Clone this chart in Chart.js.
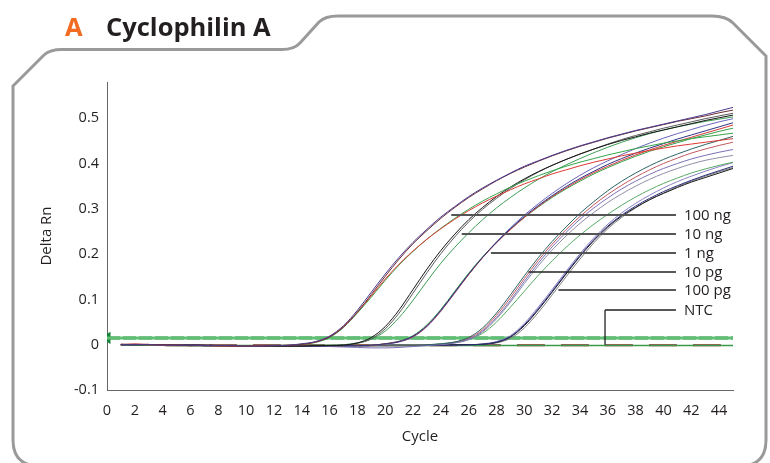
<!DOCTYPE html>
<html>
<head>
<meta charset="utf-8">
<script src="https://cdn.jsdelivr.net/npm/chart.js@4"></script>
<style>
  html, body { margin: 0; padding: 0; background: #fff; }
  canvas { display: block; }
</style>
</head>
<body>
<canvas id="chart" width="770" height="463"></canvas>
<script>
const cycles = [1,2,3,4,5,6,7,8,9,10,11,12,13,14,15,16,17,18,19,20,21,22,23,24,25,26,27,28,29,30,31,32,33,34,35,36,37,38,39,40,41,42,43,44,45];

// 100 ng
const ng100a = [0,0,0,-0.001,-0.001,-0.001,-0.002,-0.002,-0.002,-0.003,-0.003,-0.002,-0.001,
  0.002,0.007,0.019,0.042,0.076,0.116,0.156,0.193,0.226,0.255,0.282,0.305,0.327,0.346,0.363,0.379,0.394,0.406,0.418,0.429,
  0.439,0.448,0.457,0.465,0.473,0.480,0.487,0.494,0.501,0.508,0.516,0.524];
const ng100b = [0.001,0,0,0,-0.001,-0.002,-0.002,-0.002,-0.003,-0.003,-0.003,-0.002,-0.002,
  0.001,0.006,0.017,0.039,0.072,0.111,0.151,0.189,0.223,0.252,0.279,0.303,0.325,0.344,0.362,0.378,0.392,0.405,0.417,0.428,
  0.438,0.447,0.456,0.464,0.472,0.479,0.486,0.493,0.499,0.505,0.512,0.518];
const ng100c = [0,0.001,0,-0.001,-0.001,-0.002,-0.002,-0.003,-0.003,-0.003,-0.002,-0.002,-0.001,
  0.001,0.006,0.018,0.040,0.072,0.108,0.145,0.178,0.207,0.233,0.256,0.277,0.296,0.313,0.328,0.342,0.355,0.366,0.377,0.386,
  0.395,0.403,0.410,0.417,0.423,0.429,0.434,0.439,0.443,0.447,0.451,0.455];
const ng100d = [0,0,-0.001,-0.001,-0.002,-0.002,-0.002,-0.003,-0.003,-0.002,-0.002,-0.002,-0.001,
  0.001,0.005,0.016,0.038,0.070,0.105,0.142,0.176,0.206,0.233,0.257,0.279,0.299,0.317,0.333,0.348,0.361,0.373,0.384,0.394,
  0.403,0.411,0.419,0.426,0.433,0.439,0.445,0.450,0.455,0.459,0.463,0.467];

// 10 ng
const ng10a = [0,0,0,0,-0.001,-0.001,-0.001,-0.002,-0.002,-0.002,-0.003,-0.003,-0.003,-0.003,-0.002,-0.002,-0.001,
  0.004,0.016,0.040,0.077,0.122,0.167,0.208,0.244,0.276,0.303,0.327,0.348,0.366,0.382,0.396,0.409,0.421,0.432,0.442,0.451,
  0.459,0.467,0.474,0.481,0.488,0.495,0.501,0.507];
const ng10b = [0,0,0,-0.001,-0.001,-0.001,-0.002,-0.002,-0.002,-0.003,-0.003,-0.003,-0.003,-0.002,-0.002,-0.001,0,
  0.003,0.013,0.035,0.070,0.114,0.159,0.201,0.238,0.271,0.299,0.323,0.345,0.364,0.381,0.396,0.409,0.421,0.432,0.443,0.453,
  0.462,0.470,0.478,0.485,0.492,0.499,0.505,0.511];
const ng10c = [0,0,-0.001,-0.001,-0.001,-0.002,-0.002,-0.002,-0.003,-0.003,-0.003,-0.002,-0.002,-0.002,-0.001,-0.001,0,
  0.004,0.012,0.030,0.060,0.098,0.140,0.180,0.215,0.247,0.276,0.302,0.325,0.346,0.365,0.382,0.397,0.411,0.424,0.436,0.447,
  0.457,0.466,0.474,0.481,0.487,0.493,0.498,0.503];

// 1 ng
const ng1a = [0,0,0,-0.001,-0.001,-0.001,-0.002,-0.002,-0.002,-0.002,-0.003,-0.003,-0.003,-0.003,-0.003,-0.002,-0.002,-0.002,-0.001,
  0.002,0.007,0.019,0.042,0.076,0.116,0.156,0.193,0.226,0.256,0.283,0.307,0.329,0.349,0.367,0.383,0.398,0.411,0.423,0.434,
  0.444,0.454,0.463,0.472,0.481,0.490];
const ng1b = [0,0.001,0,0,-0.001,-0.001,-0.001,-0.002,-0.002,-0.002,-0.002,-0.003,-0.003,-0.003,-0.002,-0.002,-0.002,-0.001,-0.001,
  0.002,0.007,0.018,0.041,0.075,0.115,0.155,0.192,0.225,0.254,0.281,0.305,0.327,0.346,0.364,0.380,0.394,0.407,0.419,0.430,
  0.440,0.449,0.458,0.467,0.476,0.485];
const ng1c = [0,0,-0.001,-0.001,-0.001,-0.002,-0.002,-0.002,-0.002,-0.003,-0.003,-0.003,-0.003,-0.002,-0.002,-0.002,-0.001,-0.001,-0.001,
  0.002,0.008,0.020,0.044,0.078,0.118,0.158,0.194,0.226,0.255,0.281,0.304,0.325,0.344,0.361,0.377,0.391,0.404,0.416,0.427,
  0.437,0.446,0.455,0.463,0.471,0.478];
const ng1d = [0,0,0,0,-0.001,-0.001,-0.002,-0.002,-0.002,-0.002,-0.002,-0.003,-0.003,-0.003,-0.003,-0.002,-0.002,-0.002,-0.001,
  0.001,0.006,0.017,0.040,0.074,0.114,0.155,0.193,0.227,0.258,0.286,0.311,0.334,0.355,0.374,0.391,0.406,0.420,0.433,0.445,
  0.456,0.466,0.475,0.484,0.492,0.499];

// 10 pg
const pg10a = [0,0,0,-0.001,-0.001,-0.001,-0.002,-0.002,-0.002,-0.002,-0.003,-0.003,-0.003,-0.003,-0.003,-0.002,-0.002,-0.002,-0.002,-0.001,-0.001,-0.001,0,
  0.002,0.006,0.016,0.037,0.070,0.110,0.152,0.192,0.228,0.260,0.290,0.316,0.340,0.361,0.379,0.395,0.409,0.421,0.432,0.442,
  0.451,0.460];
const pg10b = [0,0,0,-0.001,-0.001,-0.002,-0.002,-0.002,-0.002,-0.003,-0.003,-0.003,-0.003,-0.003,-0.003,-0.004,-0.005,
  -0.006,-0.007,-0.007,-0.006,-0.004,-0.002,0,0.004,
  0.012,0.030,0.060,0.098,0.140,0.180,0.216,0.248,0.277,0.302,0.324,0.344,0.361,0.376,0.389,0.400,0.410,0.418,0.425,0.431];
const pg10c = [0,0.001,0,0,-0.001,-0.001,-0.002,-0.002,-0.002,-0.002,-0.002,-0.003,-0.003,-0.003,-0.003,-0.002,-0.002,-0.002,-0.002,-0.002,-0.001,-0.001,0,
  0.001,0.005,0.014,0.033,0.065,0.104,0.146,0.186,0.222,0.254,0.283,0.309,0.332,0.352,0.370,0.386,0.400,0.412,0.423,0.432,
  0.440,0.447];
const pg10d = [0,0,-0.001,-0.001,-0.001,-0.002,-0.002,-0.002,-0.002,-0.003,-0.003,-0.003,-0.003,-0.003,-0.002,-0.002,-0.002,-0.002,-0.002,-0.001,-0.001,-0.001,0,
  0.001,0.004,0.011,0.028,0.057,0.094,0.135,0.174,0.209,0.240,0.268,0.292,0.314,0.333,0.350,0.365,0.378,0.389,0.399,0.407,
  0.413,0.418];
const pg10e = [0,0,0,-0.001,-0.001,-0.001,-0.002,-0.002,-0.002,-0.002,-0.003,-0.003,-0.003,-0.002,-0.002,-0.002,-0.002,-0.002,-0.001,-0.001,-0.001,0,0,
  0.002,0.006,0.013,0.025,0.050,0.083,0.118,0.153,0.185,0.215,0.242,0.266,0.288,0.308,0.326,0.342,0.356,0.368,0.379,0.388,
  0.396,0.403];

// 100 pg
const pg100a = [0,0,0,0,-0.001,-0.001,-0.001,-0.002,-0.002,-0.002,-0.002,-0.002,-0.003,-0.003,-0.003,-0.003,-0.003,-0.002,-0.002,-0.002,-0.002,-0.002,-0.001,-0.001,-0.001,0,
  0.001,0.006,0.018,0.044,0.079,0.118,0.158,0.197,0.232,0.262,0.286,0.306,0.323,0.338,0.351,0.363,0.374,0.384,0.394];
const pg100b = [0,0,0,-0.001,-0.001,-0.001,-0.001,-0.002,-0.002,-0.002,-0.002,-0.003,-0.003,-0.003,-0.003,-0.002,-0.002,-0.002,-0.002,-0.002,-0.001,-0.001,-0.001,-0.001,0,0,
  0.001,0.005,0.017,0.042,0.077,0.116,0.156,0.195,0.230,0.260,0.284,0.303,0.320,0.334,0.347,0.359,0.369,0.379,0.389];
const pg100c = [0,0,0,-0.001,-0.001,-0.001,-0.002,-0.002,-0.002,-0.002,-0.002,-0.003,-0.003,-0.003,-0.003,-0.002,-0.002,-0.002,-0.002,-0.002,-0.001,-0.001,-0.001,-0.001,0,0,
  0.001,0.004,0.014,0.037,0.071,0.110,0.150,0.189,0.225,0.256,0.281,0.302,0.320,0.335,0.349,0.361,0.372,0.382,0.391];
const pg100d = [0,0,0,0,-0.001,-0.001,-0.002,-0.002,-0.002,-0.002,-0.003,-0.003,-0.003,-0.003,-0.003,-0.002,-0.002,-0.002,-0.002,-0.001,-0.001,-0.001,-0.001,0,0,0,
  0.002,0.007,0.020,0.047,0.083,0.122,0.162,0.201,0.236,0.266,0.291,0.312,0.330,0.346,0.360,0.372,0.383,0.393,0.402];

// no template control
const ntcA = [0,0,0,-0.001,-0.001,-0.001,-0.001,-0.001,-0.001,-0.001,-0.001,-0.001,-0.001,-0.001,-0.001,-0.001,-0.001,-0.001,-0.001,-0.001,-0.001,-0.001,-0.001,-0.001,-0.001,-0.001,-0.001,-0.001,-0.001,-0.001,-0.001,-0.001,-0.001,-0.001,-0.001,-0.001,-0.001,-0.001,-0.001,-0.001,-0.001,-0.001,-0.001,-0.001,-0.001];
const ntcB = [-0.001,-0.001,-0.001,-0.001,-0.002,-0.002,-0.002,-0.002,-0.002,-0.002,-0.002,-0.002,-0.002,-0.002,-0.002,-0.002,-0.002,-0.002,-0.002,-0.002,-0.002,-0.002,-0.002,-0.002,-0.002,-0.002,-0.002,-0.002,-0.002,-0.002,-0.002,-0.002,-0.002,-0.002,-0.002,-0.002,-0.002,-0.002,-0.002,-0.002,-0.002,-0.002,-0.002,-0.002,-0.002];

const threshold = 0.015;
const thresholdCycles = [0, 45];

const xTicks = [0,2,4,6,8,10,12,14,16,18,20,22,24,26,28,30,32,34,36,38,40,42,44];
const yTicks = [-0.1,0,0.1,0.2,0.3,0.4,0.5];

// leader labels, anchored on the curves (cycle, delta Rn)
const labelNames = ["100 ng", "10 ng", "1 ng", "10 pg", "100 pg", "NTC"];
const labelCycles = [24.75, 25.5, 27.6, 30.3, 32.45, 35.8];
const labelValues = [0.286, 0.245, 0.203, 0.161, 0.121, 0.077];
const labelEndCycle = 40.9;

const curve = (values, color, width) => ({
  data: values.map((v, i) => ({ x: cycles[i], y: v })),
  borderColor: color,
  borderWidth: width || 1,
  pointRadius: 0,
  cubicInterpolationMode: "monotone",
  fill: false,
});

const datasets = [
  curve(ng100a, "#4a3d8f"),
  curve(ng100b, "#6e2a34"),
  curve(ng100c, "#de3b35"),
  curve(ng100d, "#38a64c"),
  curve(ng10a, "#161616"),
  curve(ng10b, "#5c5c5c"),
  curve(ng10c, "#3e9e56"),
  curve(ng1a, "#2f3383"),
  curve(ng1b, "#d43a3a"),
  curve(ng1c, "#35a24a"),
  curve(ng1d, "#6a66bb"),
  curve(pg10a, "#2f6466"),
  curve(pg10b, "#7a70b8"),
  curve(pg10c, "#c05a60"),
  curve(pg10d, "#8d8fa8"),
  curve(pg10e, "#5aaa66"),
  curve(pg100a, "#2a2d7c"),
  curve(pg100b, "#1a1a1a"),
  curve(pg100c, "#808080"),
  curve(pg100d, "#8a82c4"),
  curve(ntcB, "#3a9a4a", 1.5),
  Object.assign(curve(ntcA, "#8b1e2a", 2), { borderDash: [28, 16] }),
  {
    data: thresholdCycles.map(c => ({ x: c, y: threshold })),
    borderColor: "#5fbf73",
    borderWidth: 3,
    pointRadius: 0,
  },
  {
    data: thresholdCycles.map(c => ({ x: c, y: threshold })),
    borderColor: "#16843a",
    borderWidth: 3,
    borderDash: [13, 3],
    pointStyle: "triangle",
    pointRadius: [4, 0],
    pointRotation: -90,
    pointBackgroundColor: "#16843a",
    pointBorderColor: "#16843a",
  },
];

const frameAndLabels = {
  id: "frameAndLabels",
  beforeDraw(chart) {
    const ctx = chart.ctx;
    ctx.save();
    ctx.fillStyle = "#fff";
    ctx.fillRect(0, 0, chart.width, chart.height);
    // tab frame
    ctx.strokeStyle = "#9a9a9a";
    ctx.lineWidth = 3;
    ctx.lineJoin = "round";
    ctx.beginPath();
    ctx.moveTo(40, 466);
    ctx.quadraticCurveTo(13, 466, 13, 440);
    ctx.lineTo(13, 86);
    ctx.lineTo(44, 55);
    ctx.quadraticCurveTo(50, 49.5, 62, 49.5);
    ctx.lineTo(282, 49.5);
    ctx.quadraticCurveTo(294, 49.5, 300, 43);
    ctx.lineTo(319, 22);
    ctx.quadraticCurveTo(325, 16, 338, 16);
    ctx.lineTo(712, 16);
    ctx.quadraticCurveTo(726, 16, 733, 23);
    ctx.lineTo(766, 56);
    ctx.lineTo(766, 440);
    ctx.quadraticCurveTo(766, 466, 740, 466);
    ctx.stroke();
    // heading
    ctx.font = "bold 25.5px 'Open Sans'";
    ctx.textBaseline = "alphabetic";
    ctx.fillStyle = "#f26b21";
    ctx.fillText("A", 65, 36);
    ctx.fillStyle = "#231f20";
    ctx.fillText("Cyclophilin A", 106, 36);
    ctx.restore();
  },
  afterDatasetsDraw(chart) {
    const { ctx, scales: { x, y } } = chart;
    ctx.save();
    const xEnd = x.getPixelForValue(labelEndCycle);
    labelNames.forEach((name, i) => {
      const px = x.getPixelForValue(labelCycles[i]);
      const py = Math.round(y.getPixelForValue(labelValues[i]));
      ctx.strokeStyle = i < 3 ? "#555" : "#222";
      ctx.lineWidth = i < 3 ? 2 : 1.3;
      ctx.beginPath();
      ctx.moveTo(px, py);
      ctx.lineTo(xEnd, py);
      if (name === "NTC") {
        ctx.moveTo(px, py);
        ctx.lineTo(px, y.getPixelForValue(0));
      }
      ctx.stroke();
      ctx.font = "15px 'Open Sans'";
      ctx.fillStyle = "#231f20";
      ctx.textBaseline = "middle";
      ctx.fillText(name, xEnd + 8, py + 1);
    });
    ctx.restore();
  },
};

new Chart(document.getElementById("chart"), {
  type: "line",
  data: { datasets },
  options: {
    responsive: false,
    animation: false,
    devicePixelRatio: 1,
    layout: { padding: { left: 20, right: 37, top: 82, bottom: 0 } },
    plugins: { legend: { display: false }, tooltip: { enabled: false } },
    scales: {
      x: {
        type: "linear",
        min: 0,
        max: 45,
        afterFit: (scale) => { scale.height = 73; },
        afterBuildTicks: (scale) => { scale.ticks = xTicks.map(v => ({ value: v })); },
        grid: { display: false, drawTicks: false },
        border: { display: true, color: "#666", width: 1 },
        ticks: { padding: 12, color: "#231f20", font: { family: "'Open Sans'", size: 14.5 } },
        title: { display: true, text: "Cycle", color: "#231f20", padding: { top: 0, bottom: 17 }, font: { family: "'Open Sans'", size: 15 } },
      },
      y: {
        min: -0.1,
        max: 0.58,
        afterFit: (scale) => { scale.width = 87; },
        afterBuildTicks: (scale) => { scale.ticks = yTicks.map(v => ({ value: v })); },
        grid: { display: false, drawTicks: false },
        border: { display: true, color: "#666", width: 1 },
        ticks: {
          padding: 8,
          color: "#231f20",
          font: { family: "'Open Sans'", size: 14.5 },
          callback: (v) => String(Math.round(v * 10) / 10),
        },
        title: { display: true, text: "Delta Rn", color: "#231f20", padding: { top: 18, bottom: 0 }, font: { family: "'Open Sans'", size: 15 } },
      },
    },
  },
  plugins: [frameAndLabels],
});
</script>
</body>
</html>
